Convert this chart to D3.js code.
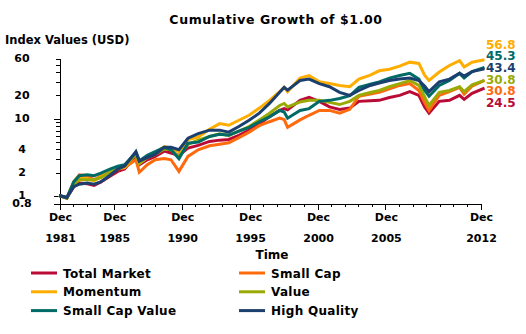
<!DOCTYPE html>
<html>
<head>
<meta charset="utf-8">
<script src="https://cdn.jsdelivr.net/npm/d3@7"></script>
<style>
  body { margin: 0; background: #fff; }
  svg { display: block; font-family: 'DejaVu Sans', sans-serif; font-weight: bold; }
  .axis path, .axis line { stroke: #000; shape-rendering: crispEdges; }
</style>
</head>
<body>
<svg width="526" height="334"></svg>
<script>
// values (index, start = 1.00)
const dates = [
  '1981-12', '1982-07', '1983-01', '1983-06', '1984-01', '1984-07', '1985-01', '1985-09',
  '1986-04', '1986-10', '1987-08', '1987-11', '1988-06', '1989-01', '1989-09', '1990-03',
  '1990-10', '1991-06', '1992-03', '1993-01', '1993-10', '1994-06', '1995-03', '1995-12',
  '1996-09', '1997-06', '1998-03', '1998-07', '1998-10', '1999-09', '2000-05', '2001-02',
  '2001-11', '2002-08', '2003-05', '2004-01', '2004-11', '2005-07', '2006-04', '2007-01',
  '2007-10', '2008-06', '2008-11', '2009-03', '2009-12', '2010-09', '2011-06', '2011-10',
  '2012-05', '2013-04'
]
const totalMarket = [
  1.0, 0.93, 1.3, 1.45, 1.42, 1.35, 1.5, 1.77, 2.05, 2.2, 3.3, 2.5, 2.9, 3.2, 3.75, 3.55,
  3.3, 4.1, 4.45, 5.0, 5.2, 5.3, 6.0, 7.0, 8.5, 10.4, 12.6, 13.3, 12.8, 17.0, 18.6, 16.5,
  14.0, 13.0, 13.5, 16.5, 16.8, 17.0, 18.5, 19.7, 22.0, 19.7, 14.0, 11.6, 16.5, 17.0, 19.7, 17.5,
  21.0, 24.5
]
const smallCap = [
  1.0, 0.92, 1.5, 1.85, 1.8, 1.6, 1.8, 1.95, 2.3, 2.3, 2.9, 2.0, 2.5, 2.9, 3.0, 2.9,
  2.05, 3.2, 3.9, 4.4, 4.6, 4.8, 5.6, 6.6, 8.0, 9.0, 10.0, 9.6, 7.6, 9.5, 10.9, 12.6,
  12.6, 11.6, 13.0, 19.2, 20.5, 21.6, 24.0, 26.5, 28.0, 22.8, 16.0, 12.6, 19.7, 22.0, 25.0, 20.5,
  26.0, 30.77
]
const momentum = [
  1.0, 0.93, 1.4, 1.7, 1.65, 1.55, 1.75, 2.0, 2.2, 2.3, 3.6, 2.6, 3.1, 3.5, 4.3, 4.1,
  3.7, 5.3, 5.7, 7.2, 8.5, 8.1, 9.4, 10.9, 13.5, 17.0, 22.0, 25.0, 22.0, 33.0, 35.6, 29.5,
  28.0, 26.5, 25.5, 32.0, 36.0, 41.0, 43.0, 47.0, 53.0, 51.0, 36.0, 30.7, 39.5, 48.0, 55.6, 46.0,
  53.0, 56.8
]
const value = [
  1.0, 0.93, 1.4, 1.6, 1.6, 1.6, 1.7, 2.0, 2.25, 2.4, 3.4, 2.6, 3.1, 3.4, 4.0, 3.9,
  3.2, 4.6, 5.2, 5.8, 6.3, 6.0, 6.8, 7.8, 9.5, 11.6, 14.6, 15.5, 14.0, 16.2, 17.0, 17.0,
  16.0, 15.0, 16.5, 19.7, 21.5, 22.8, 25.5, 28.0, 30.7, 26.5, 19.0, 14.6, 21.6, 22.8, 25.5, 22.0,
  27.0, 30.84
]
const smallCapValue = [
  1.0, 0.93, 1.5, 1.8, 1.85, 1.8, 1.95, 2.2, 2.4, 2.5, 3.6, 2.8, 3.3, 3.7, 4.2, 3.9,
  3.0, 4.75, 4.9, 5.8, 6.2, 6.0, 6.8, 7.6, 9.0, 10.4, 12.6, 12.0, 10.0, 12.6, 13.3, 16.5,
  17.0, 18.0, 19.5, 25.0, 27.5, 29.5, 33.0, 35.6, 38.0, 32.0, 23.0, 19.2, 26.5, 30.7, 38.0, 33.0,
  40.0, 45.3
]
const highQuality = [
  1.0, 0.95, 1.3, 1.4, 1.45, 1.4, 1.5, 1.83, 2.2, 2.4, 3.7, 2.8, 3.1, 3.4, 4.2, 4.2,
  3.9, 5.5, 6.3, 7.0, 7.0, 6.6, 7.8, 9.4, 11.6, 15.5, 21.6, 25.0, 23.0, 30.7, 32.0, 28.0,
  25.5, 21.6, 19.7, 22.8, 26.5, 28.5, 30.7, 32.0, 33.0, 30.7, 26.0, 22.0, 29.5, 32.0, 38.0, 35.0,
  40.0, 43.4
]

const seriesNames = ['Total Market', 'Small Cap', 'Momentum', 'Value', 'Small Cap Value', 'High Quality']
const seriesValues = [totalMarket, smallCap, momentum, value, smallCapValue, highQuality]
const seriesColors = ['#BA0A36', '#FF6A0D', '#FFAE00', '#99AA05', '#006A66', '#1B3F6E']

const xLabelYears = [1981, 1985, 1990, 1995, 2000, 2005, 2012]
const yTicks = [0.8, 1, 2, 3, 4, 5, 6, 7, 8, 9, 10, 20, 30, 40, 50, 60]
const yLabels = ['60', '20', '10', '4', '2', '1', '0.8']
const yMajor = [0.8, 1, 10]

const svg = d3.select('svg')
const parse = d3.timeParse('%Y-%m')

const series = seriesNames.map((name, i) => ({
  name,
  color: seriesColors[i],
  values: dates.map((d, j) => ({ date: parse(d), value: seriesValues[i][j] }))
}))

const x = d3.scaleTime()
  .domain([parse('1981-12'), parse('2012-12')])
  .range([59, 480])

const y = d3.scaleLog()
  .domain([0.8, 60])
  .range([203, 58])

// title + axis titles
svg.append('text')
  .attr('x', 276).attr('y', 24)
  .attr('text-anchor', 'middle')
  .attr('font-size', '12.5px')
  .attr('letter-spacing', '0.6px')
  .text('Cumulative Growth of $1.00')

svg.append('text')
  .attr('x', 5).attr('y', 44)
  .attr('font-size', '11.5px')
  .text('Index Values (USD)')

svg.append('text')
  .attr('x', 272).attr('y', 259)
  .attr('text-anchor', 'middle')
  .attr('font-size', '12px')
  .text('Time')

//#region AXES
const yAxis = svg.append('g')
  .attr('class', 'axis')
  .attr('transform', 'translate(59.5,0.5)')
  .call(d3.axisLeft(y).tickValues(yTicks).tickFormat('').tickSizeOuter(0))
yAxis.selectAll('.tick line')
  .attr('x2', d => yMajor.includes(d) ? -6 : -3.5)

svg.append('g')
  .selectAll('text')
  .data(yLabels)
  .join('text')
  .attr('x', 22)
  .attr('y', d => y(+d))
  .attr('dy', '0.35em')
  .attr('text-anchor', 'middle')
  .attr('font-size', '11px')
  .text(d => d)

const xTicks = d3.range(1981, 2013).map(yr => new Date(yr, 11, 1))
const xAxis = svg.append('g')
  .attr('class', 'axis')
  .attr('transform', 'translate(0.5,203.5)')
  .call(d3.axisBottom(x).tickValues(xTicks).tickFormat('').tickSizeOuter(0))
xAxis.selectAll('.tick line')
  .attr('y2', d => xLabelYears.includes(d.getFullYear()) ? 6 : 3.5)

const xLab = svg.append('g')
  .selectAll('g')
  .data(xLabelYears)
  .join('g')
  .attr('transform', d => `translate(${x(new Date(d, 11, 1)) + 1.5},0)`)
  .attr('text-anchor', 'middle')
  .attr('font-size', '11px')
xLab.append('text').attr('y', 221).text('Dec')
xLab.append('text').attr('y', 242).text(d => d)
//#endregion

//#region LINES
const line = d3.line()
  .x(d => x(d.date))
  .y(d => y(d.value))

svg.append('g')
  .selectAll('path')
  .data(series)
  .join('path')
  .attr('fill', 'none')
  .attr('stroke', d => d.color)
  .attr('stroke-width', 3)
  .attr('d', d => line(d.values))

// end values, stacked so they don't overlap
const ends = series
  .map(s => ({ color: s.color, last: s.values[s.values.length - 1].value }))
  .sort((a, b) => b.last - a.last)

svg.append('g')
  .selectAll('text')
  .data(ends)
  .join('text')
  .attr('x', 486)
  .attr('y', (d, i) => 44.5 + i * 11.6)
  .attr('dy', '0.35em')
  .attr('font-size', '12px')
  .attr('fill', d => d.color)
  .text(d => d3.format('.1f')(d.last))
//#endregion

//#region LEGEND
const legend = svg.append('g')
  .selectAll('g')
  .data(series)
  .join('g')
  .attr('transform', (d, i) => `translate(${i % 2 ? 239 : 31},${273 + Math.floor(i / 2) * 18.8})`)

legend.append('line')
  .attr('x1', 0).attr('x2', 26)
  .attr('stroke', d => d.color)
  .attr('stroke-width', 3)

legend.append('text')
  .attr('x', 32)
  .attr('y', 4.5)
  .attr('font-size', '12px')
  .attr('letter-spacing', '0.3px')
  .text(d => d.name)
//#endregion
</script>
</body>
</html>
